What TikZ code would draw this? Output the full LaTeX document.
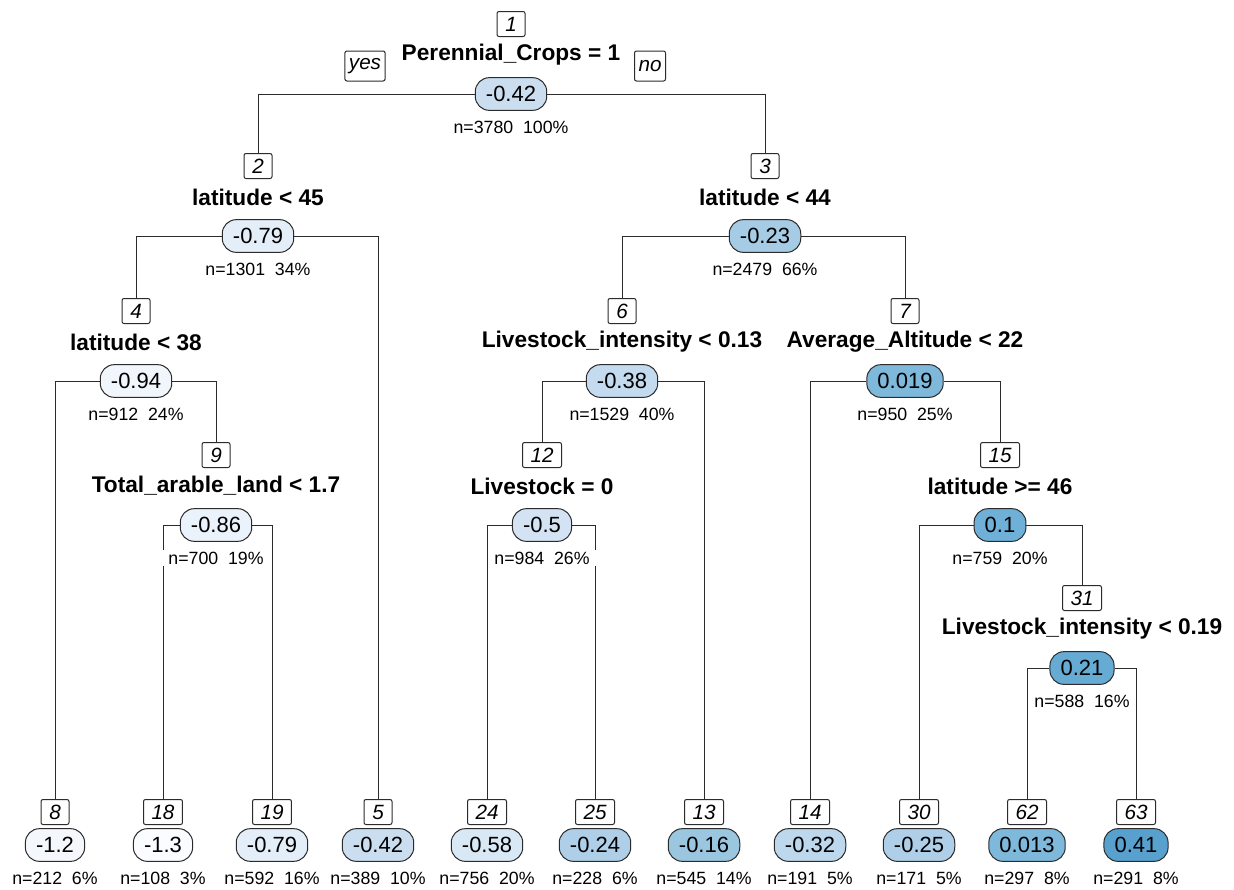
\documentclass[tikz,border=0pt]{standalone}
\usepackage{fontspec}
\setmainfont{Liberation Sans}
\usetikzlibrary{backgrounds}
\newcommand\fNum{\fontsize{15.5pt}{18pt}\selectfont\itshape}
\newcommand\fVal{\fontsize{16.5pt}{19pt}\selectfont}
\newcommand\fCond{\fontsize{17pt}{20pt}\selectfont\bfseries}
\newcommand\fStat{\fontsize{13.3pt}{15pt}\selectfont}
\definecolor{cA}{HTML}{FAFCFF}
\definecolor{cB}{HTML}{F4F8FD}
\definecolor{cC}{HTML}{F1F6FC}
\definecolor{cD}{HTML}{EAF2FB}
\definecolor{cE}{HTML}{E4EEF9}
\definecolor{cF}{HTML}{D9E8F5}
\definecolor{cG}{HTML}{D3E3F3}
\definecolor{cH}{HTML}{CADEF0}
\definecolor{cI}{HTML}{C4DAEE}
\definecolor{cJ}{HTML}{BDD7EC}
\definecolor{cK}{HTML}{AECFE7}
\definecolor{cL}{HTML}{A6CBE4}
\definecolor{cM}{HTML}{9AC6E0}
\definecolor{cN}{HTML}{7EB8DA}
\definecolor{cO}{HTML}{6EB0D7}
\definecolor{cP}{HTML}{65ABD4}
\definecolor{cQ}{HTML}{58A0CD}
\definecolor{linec}{HTML}{2B2B2B}
\tikzset{
  numbox/.style={draw=linec, line width=0.75pt, fill=white, rounded corners=1.5pt,
    font=\fNum, inner xsep=6pt, inner ysep=0pt, minimum height=18.75pt, minimum width=21pt},
  sidebox/.style={numbox, minimum height=22.5pt, inner xsep=3pt},
  valbox/.style={draw=linec, line width=0.75pt, rounded corners=10.5pt,
    font=\fVal, inner xsep=8pt, inner ysep=0pt, minimum height=24.5pt},
  condlabel/.style={font=\fCond, inner sep=1pt},
  stat/.style={font=\fStat, fill=white, inner xsep=5pt, inner ysep=1pt},
  edge/.style={draw=linec, line width=0.75pt},
}
% internal node: id, x, y of number box, condition, value, colour, stats
\newcommand\splitnode[7]{%
  \node[numbox] (n#1) at (#2,#3) {#1};
  \node[condlabel] (c#1) at (#2,#3+31) {#4};
  \node[valbox, fill=#6] (v#1) at (#2,#3+70) {#5};
  \node[stat] (s#1) at (#2,#3+103) {#7};
}
% leaf node: id, x, value, colour, stats
\newcommand\leafnode[5]{%
  \node[numbox] (n#1) at (#2,812) {#1};
  \node[valbox, fill=#4] (v#1) at (#2,845) {#3};
  \node[stat] (s#1) at (#2,878) {#5};
}
\begin{document}
\begin{tikzpicture}[x=0.75pt, y=-0.75pt]
\useasboundingbox (0,0) rectangle (1234,889);
\splitnode{1}{511}{24}{Perennial\_Crops = 1}{-0.42}{cH}{n=3780\ \ 100\%}
\node[sidebox] (yes) at (365,66) {yes};
\node[sidebox] (no) at (650,66) {no};
\splitnode{2}{258}{166}{latitude < 45}{-0.79}{cE}{n=1301\ \ 34\%}
\splitnode{3}{765}{166}{latitude < 44}{-0.23}{cL}{n=2479\ \ 66\%}
\splitnode{4}{136}{311}{latitude < 38}{-0.94}{cC}{n=912\ \ 24\%}
\splitnode{6}{622}{311}{Livestock\_intensity < 0.13}{-0.38}{cI}{n=1529\ \ 40\%}
\splitnode{7}{905}{311}{Average\_Altitude < 22}{0.019}{cN}{n=950\ \ 25\%}
\splitnode{9}{216}{455}{Total\_arable\_land < 1.7}{-0.86}{cD}{n=700\ \ 19\%}
\splitnode{12}{542}{455}{Livestock = 0}{-0.5}{cG}{n=984\ \ 26\%}
\splitnode{15}{1000}{455}{latitude >= 46}{0.1}{cO}{n=759\ \ 20\%}
\splitnode{31}{1082}{598}{Livestock\_intensity < 0.19}{0.21}{cP}{n=588\ \ 16\%}
\leafnode{8}{55}{-1.2}{cB}{n=212\ \ 6\%}
\leafnode{18}{163}{-1.3}{cA}{n=108\ \ 3\%}
\leafnode{19}{272}{-0.79}{cE}{n=592\ \ 16\%}
\leafnode{5}{378}{-0.42}{cH}{n=389\ \ 10\%}
\leafnode{24}{487}{-0.58}{cF}{n=756\ \ 20\%}
\leafnode{25}{595}{-0.24}{cK}{n=228\ \ 6\%}
\leafnode{13}{704}{-0.16}{cM}{n=545\ \ 14\%}
\leafnode{14}{810}{-0.32}{cJ}{n=191\ \ 5\%}
\leafnode{30}{919}{-0.25}{cK}{n=171\ \ 5\%}
\leafnode{62}{1027}{0.013}{cN}{n=297\ \ 8\%}
\leafnode{63}{1136}{0.41}{cQ}{n=291\ \ 8\%}
\begin{scope}[on background layer]
\draw[edge] (v1.west) -| (n2.north);
\draw[edge] (v1.east) -| (n3.north);
\draw[edge] (v2.west) -| (n4.north);
\draw[edge] (v2.east) -| (n5.north);
\draw[edge] (v3.west) -| (n6.north);
\draw[edge] (v3.east) -| (n7.north);
\draw[edge] (v4.west) -| (n8.north);
\draw[edge] (v4.east) -| (n9.north);
\draw[edge] (v6.west) -| (n12.north);
\draw[edge] (v6.east) -| (n13.north);
\draw[edge] (v7.west) -| (n14.north);
\draw[edge] (v7.east) -| (n15.north);
\draw[edge] (v9.west) -| (n18.north);
\draw[edge] (v9.east) -| (n19.north);
\draw[edge] (v12.west) -| (n24.north);
\draw[edge] (v12.east) -| (n25.north);
\draw[edge] (v15.west) -| (n30.north);
\draw[edge] (v15.east) -| (n31.north);
\draw[edge] (v31.west) -| (n62.north);
\draw[edge] (v31.east) -| (n63.north);
\end{scope}
\end{tikzpicture}
\end{document}
